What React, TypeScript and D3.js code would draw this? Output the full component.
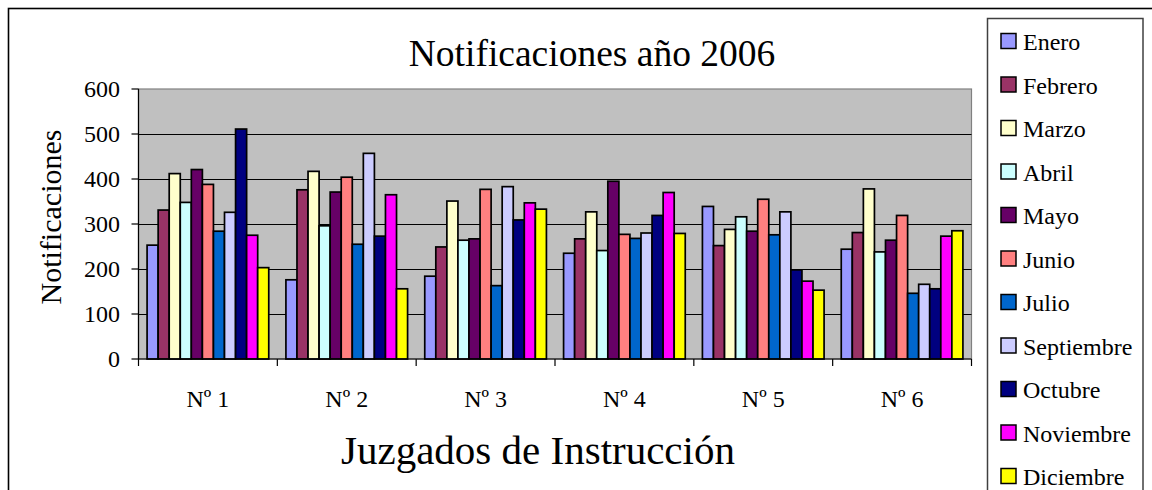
import React from "react";
import * as d3 from "d3";

const categories = ["Nº 1", "Nº 2", "Nº 3", "Nº 4", "Nº 5", "Nº 6"];
const months = ["Enero", "Febrero", "Marzo", "Abril", "Mayo", "Junio", "Julio", "Septiembre", "Octubre", "Noviembre", "Diciembre"];
const colors = ["#9999FF", "#993366", "#FFFFCC", "#CCFFFF", "#660066", "#FF8080", "#0066CC", "#CCCCFF", "#000080", "#FF00FF", "#FFFF00"];

const enero = [253, 176, 184, 235, 339, 244];
const febrero = [331, 376, 249, 267, 252, 281];
const marzo = [412, 417, 351, 327, 288, 378];
const abril = [348, 296, 264, 241, 316, 238];
const mayo = [421, 371, 267, 395, 284, 264];
const junio = [388, 404, 377, 277, 355, 319];
const julio = [284, 255, 163, 268, 276, 146];
const septiembre = [326, 457, 383, 280, 327, 166];
const octubre = [511, 273, 309, 319, 198, 156];
const noviembre = [275, 365, 347, 370, 173, 273];
const diciembre = [203, 156, 333, 279, 153, 285];

const seriesValues = [enero, febrero, marzo, abril, mayo, junio, julio, septiembre, octubre, noviembre, diciembre];
const yTicks = [0, 100, 200, 300, 400, 500, 600];

const FONT = '"Liberation Serif", "Times New Roman", Times, serif';

export default function App() {
  const left = 138.5, right = 971.5, top = 89, bottom = 359;
  const x0 = d3.scaleBand<string>().domain(categories).range([left, right]).padding(0);
  const x1 = d3.scaleBand<string>().domain(months).range([0, x0.bandwidth()]).paddingInner(0).paddingOuter(0.776);
  const y = d3.scaleLinear().domain([0, 600]).range([bottom, top]);

  return (
    <svg width={1152} height={490} style={{ position: "absolute", left: 0, top: 0, background: "#fff" }} fontFamily={FONT}>
      <rect x={0} y={0} width={1152} height={490} fill="#fff" />
      {/* outer chart border */}
      <rect x={8.5} y={8.5} width={1200} height={600} fill="none" stroke="#000" strokeWidth={1.6} />
      {/* title */}
      <text x={592} y={66} textAnchor="middle" fontSize={37.5} fontFamily={FONT} fill="#000">Notificaciones año 2006</text>
      {/* plot background */}
      <rect x={left} y={top} width={right - left} height={bottom - top} fill="#C0C0C0" stroke="#808080" strokeWidth={1.2} />
      {/* gridlines */}
      {yTicks.filter(t => t > 0 && t < 600).map(t => (
        <line key={t} x1={left} x2={right} y1={Math.round(y(t)) + 0.5} y2={Math.round(y(t)) + 0.5} stroke="#000" strokeWidth={1} />
      ))}
      {/* bars */}
      {categories.map((c, ci) => (
        <g key={c} transform={`translate(${x0(c)},0)`}>
          {months.map((m, mi) => {
            const v = seriesValues[mi][ci];
            return (
              <rect key={m} x={x1(m)} y={y(v)} width={x1.bandwidth()} height={y(0) - y(v)}
                fill={colors[mi]} stroke="#000" strokeWidth={1.7} />
            );
          })}
        </g>
      ))}
      {/* y axis */}
      <line x1={left} x2={left} y1={top} y2={bottom} stroke="#000" strokeWidth={1.2} />
      {yTicks.map(t => (
        <g key={t}>
          <line x1={left - 7} x2={left} y1={y(t)} y2={y(t)} stroke="#000" strokeWidth={1.2} />
          <text x={120} y={y(t)} dy="0.34em" textAnchor="end" fontSize={24} fontFamily={FONT} fill="#000">{t}</text>
        </g>
      ))}
      {/* x axis */}
      <line x1={left} x2={right} y1={bottom} y2={bottom} stroke="#000" strokeWidth={1.2} />
      {categories.map((c) => (
        <line key={"t" + c} x1={x0(c)!} x2={x0(c)!} y1={bottom} y2={bottom + 7} stroke="#000" strokeWidth={1.2} />
      ))}
      <line x1={right} x2={right} y1={bottom} y2={bottom + 7} stroke="#000" strokeWidth={1.2} />
      {categories.map(c => (
        <text key={"l" + c} x={x0(c)! + x0.bandwidth() / 2} y={407} textAnchor="middle" fontSize={24} fontFamily={FONT} fill="#000">{c}</text>
      ))}
      {/* axis titles */}
      <text transform={`translate(61,217) rotate(-90)`} textAnchor="middle" fontSize={30} fontFamily={FONT} fill="#000">Notificaciones</text>
      <text x={538} y={464} textAnchor="middle" fontSize={41} fontFamily={FONT} fill="#000">Juzgados de Instrucción</text>
      {/* legend */}
      <rect x={987.5} y={18.5} width={155.5} height={600} fill="#fff" stroke="#404040" strokeWidth={1.5} />
      {months.map((m, i) => {
        const by = 50 + i * 43.5;
        return (
          <g key={"lg" + m}>
            <rect x={1001} y={by - 16.5} width={15} height={15} fill={colors[i]} stroke="#000" strokeWidth={1.5} />
            <text x={1023} y={by} fontSize={24} fontFamily={FONT} fill="#000">{m}</text>
          </g>
        );
      })}
    </svg>
  );
}
